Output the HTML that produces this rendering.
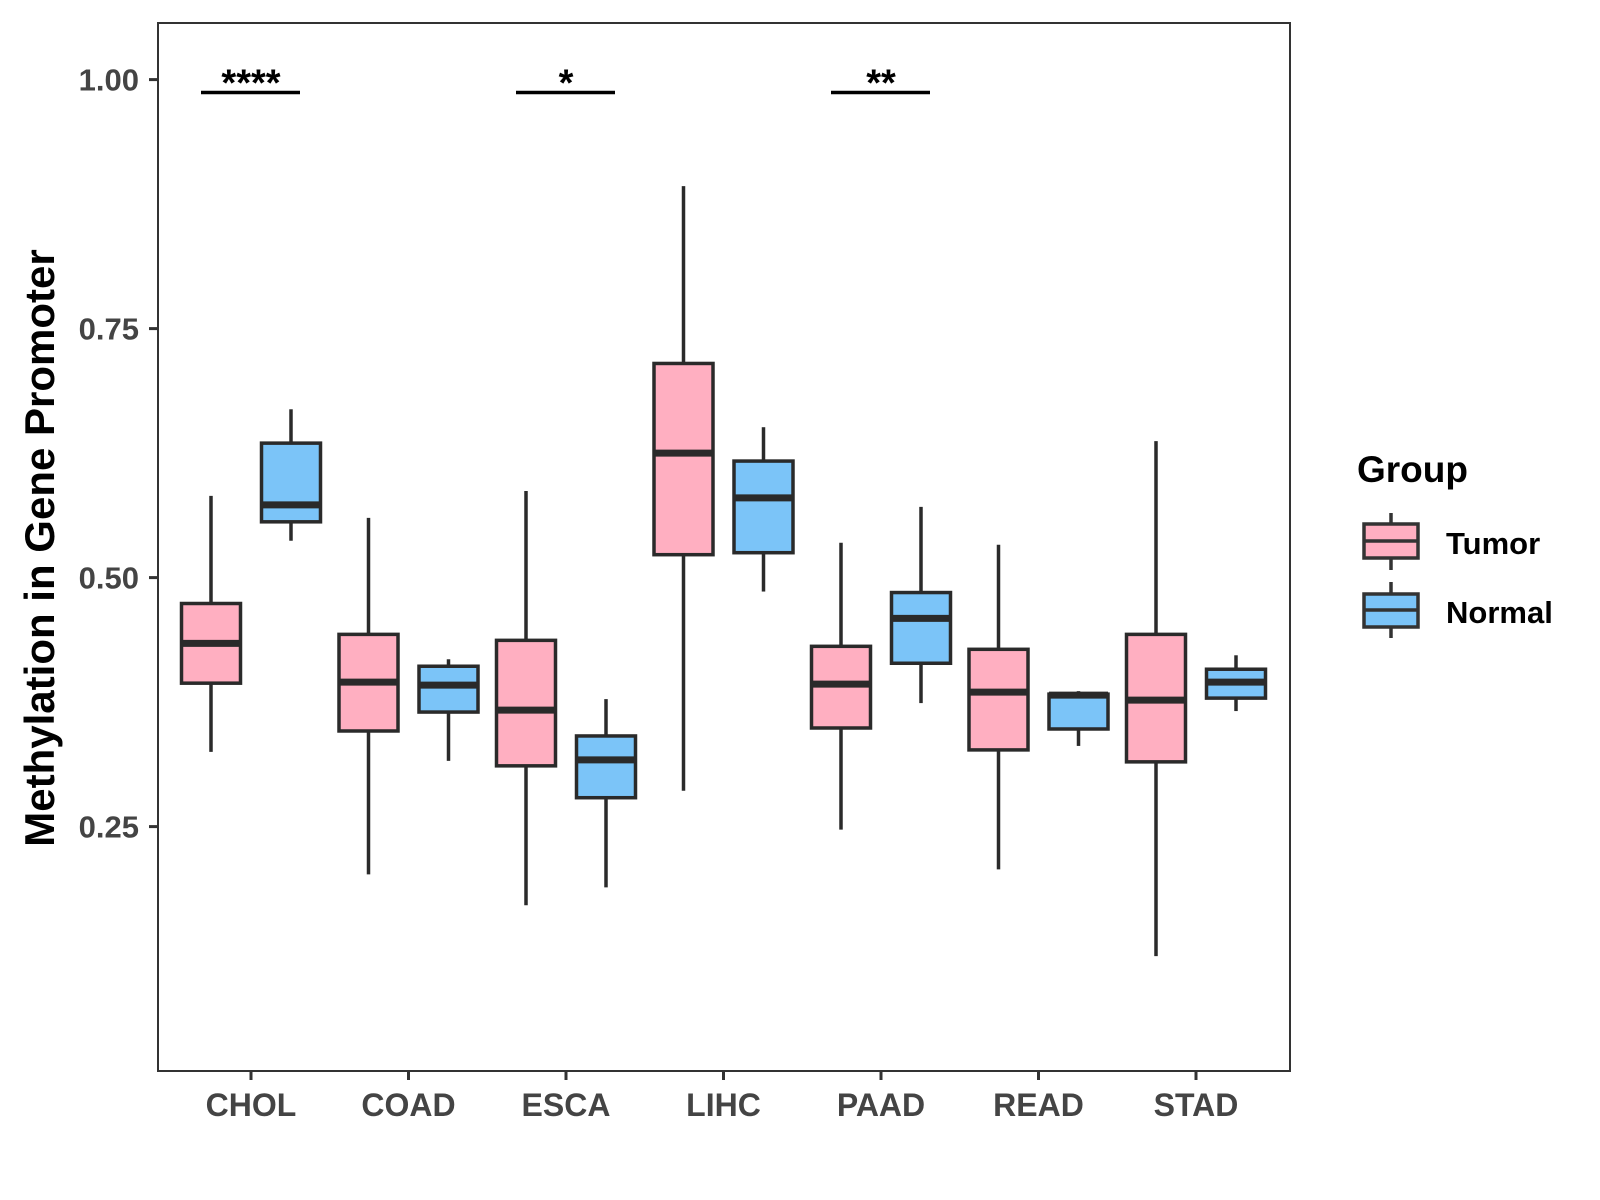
<!DOCTYPE html>
<html><head><meta charset="utf-8"><style>
html,body{margin:0;padding:0;background:#fff;}
svg{display:block;font-family:"Liberation Sans",Arial,sans-serif;}
</style></head><body>
<svg id="chart" width="1600" height="1200" viewBox="0 0 1600 1200">
<rect x="158" y="23" width="1132" height="1048" fill="#fff" stroke="#333" stroke-width="2"/>
<g id="marks"></g>
<g id="axes"></g>
<text transform="translate(54,548) rotate(-90)" text-anchor="middle" font-size="42" font-weight="bold" fill="#000">Methylation in Gene Promoter</text>
<g>
<text x="1357" y="482" font-size="37" font-weight="bold" fill="#000">Group</text>
<g>
<line x1="1391" y1="513" x2="1391" y2="570" stroke="#333" stroke-width="3.5"/>
<rect x="1364" y="524" width="54" height="34" fill="#FFAFC1" stroke="#333" stroke-width="3.5"/>
<line x1="1364" y1="541" x2="1418" y2="541" stroke="#333" stroke-width="3.5"/>
<text x="1446" y="554" font-size="31" font-weight="bold" fill="#000">Tumor</text>
</g>
<g>
<line x1="1391" y1="582" x2="1391" y2="638" stroke="#333" stroke-width="3.5"/>
<rect x="1364" y="594" width="54" height="33" fill="#7BC4F8" stroke="#333" stroke-width="3.5"/>
<line x1="1364" y1="610" x2="1418" y2="610" stroke="#333" stroke-width="3.5"/>
<text x="1446" y="623" font-size="31" font-weight="bold" fill="#000">Normal</text>
</g>
</g>
</svg>
<script>
const categories=["CHOL","COAD","ESCA","LIHC","PAAD","READ","STAD"];
const tumorLow=[0.325,0.202,0.171,0.286,0.247,0.207,0.120];
const tumorQ1=[0.394,0.346,0.311,0.523,0.349,0.327,0.315];
const tumorMed=[0.434,0.395,0.367,0.625,0.393,0.385,0.377];
const tumorQ3=[0.474,0.443,0.437,0.715,0.431,0.428,0.443];
const tumorHigh=[0.582,0.560,0.587,0.893,0.535,0.533,0.637];
const normalLow=[0.537,0.316,0.189,0.486,0.374,0.331,0.366];
const normalQ1=[0.556,0.365,0.279,0.525,0.414,0.348,0.379];
const normalMed=[0.573,0.392,0.317,0.580,0.459,0.382,0.395];
const normalQ3=[0.635,0.411,0.341,0.617,0.485,0.383,0.408];
const normalHigh=[0.669,0.418,0.378,0.651,0.571,0.386,0.422];
const yTicks=[0.25,0.50,0.75,1.00];
const yTickLabels=["0.25","0.50","0.75","1.00"];
const sigCats=["CHOL","ESCA","PAAD"];
const sigLabels=["****","*","**"];
const sigY=[0.987,0.987,0.987];

const NS="http://www.w3.org/2000/svg";
function yS(v){return 79.6+(1-v)*996;}
function xS(i){return 251+i*157.5;}
function mk(tag,attrs,parent){const e=document.createElementNS(NS,tag);for(const k in attrs)e.setAttribute(k,attrs[k]);parent.appendChild(e);return e;}
const marks=document.getElementById('marks'),axes=document.getElementById('axes');
const groups=[
 {name:'tumor',off:-40,fill:'#FFAFC1',lo:tumorLow,q1:tumorQ1,med:tumorMed,q3:tumorQ3,hi:tumorHigh},
 {name:'normal',off:40,fill:'#7BC4F8',lo:normalLow,q1:normalQ1,med:normalMed,q3:normalQ3,hi:normalHigh}];
const bw=59;
categories.forEach((c,i)=>{
 groups.forEach(g=>{
  const cx=xS(i)+g.off;
  const gr=mk('g',{},marks);
  
  
  mk('line',{x1:cx,x2:cx,y1:yS(g.hi[i]),y2:yS(g.q3[i]),stroke:'#2a2a2a','stroke-width':3.5},gr);
  mk('line',{x1:cx,x2:cx,y1:yS(g.q1[i]),y2:yS(g.lo[i]),stroke:'#2a2a2a','stroke-width':3.5},gr);
  mk('rect',{x:cx-bw/2,y:yS(g.q3[i]),width:bw,height:yS(g.q1[i])-yS(g.q3[i]),fill:g.fill,stroke:'#2a2a2a','stroke-width':3.5},gr);
  mk('line',{x1:cx-bw/2,x2:cx+bw/2,y1:yS(g.med[i]),y2:yS(g.med[i]),stroke:'#2a2a2a','stroke-width':7},gr);
 });
 const tk=mk('line',{x1:xS(i),x2:xS(i),y1:1071,y2:1080,stroke:'#333','stroke-width':3},axes);
 
 
 const t=mk('text',{x:xS(i),y:1116,'text-anchor':'middle','font-size':32,'font-weight':'bold',fill:'#444'},axes);
 t.textContent=c;
 
 
});
yTicks.forEach((v,j)=>{
 const tk=mk('line',{x1:149,x2:158,y1:yS(v),y2:yS(v),stroke:'#333','stroke-width':3},axes);
 
 
 const t=mk('text',{x:139,y:yS(v)+11,'text-anchor':'end','font-size':31,'font-weight':'bold',fill:'#444'},axes);
 t.textContent=yTickLabels[j];
 
 
});
sigCats.forEach((c,j)=>{
 const i=categories.indexOf(c);
 const y=yS(sigY[j]);
 const ln=mk('line',{x1:xS(i)-50,x2:xS(i)+49,y1:y,y2:y,stroke:'#000','stroke-width':3.5},marks);
 
 
 const t=mk('text',{x:xS(i),y:y+3,'text-anchor':'middle','font-size':38,'font-weight':'bold',fill:'#000'},marks);
 t.textContent=sigLabels[j];
 
 
});
</script>
</body></html>
